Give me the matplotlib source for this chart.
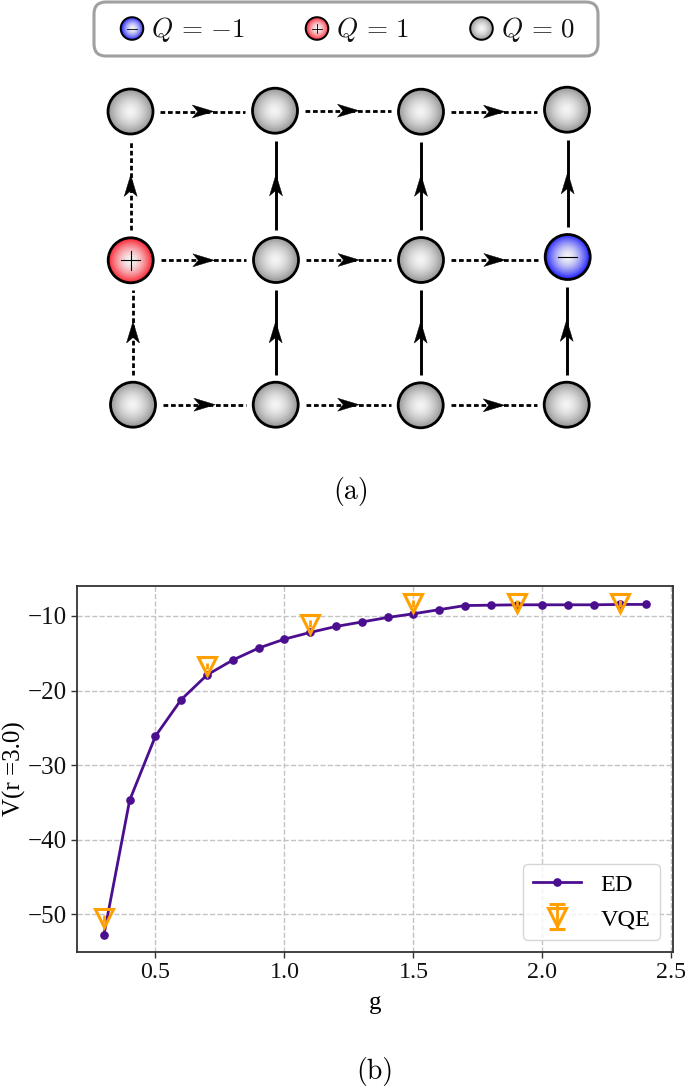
import numpy as np
import matplotlib
matplotlib.use("Agg")
import matplotlib.pyplot as plt
from matplotlib.patches import Circle, FancyBboxPatch, Polygon

W, H = 685, 1087
DPI = 100
plt.rcParams['mathtext.fontset'] = 'cm'
plt.rcParams['axes.unicode_minus'] = True

# Data
g_ed = [0.3,0.4,0.5,0.6,0.7,0.8,0.9,1.0,1.1,1.2,1.3,1.4,1.5,1.6,1.7,1.8,1.9,2.0,2.1,2.2,2.3,2.4]
v_ed = [-52.8,-34.7,-26.1,-21.2,-17.9,-15.9,-14.3,-13.1,-12.2,-11.4,-10.8,-10.2,-9.7,-9.15,-8.6,-8.55,-8.5,-8.5,-8.5,-8.5,-8.45,-8.45]
g_vqe = [0.3,0.7,1.1,1.5,1.9,2.3]
v_vqe = [-50.5,-16.7,-11.05,-8.3,-8.3,-8.3]
err_vqe = [0.45,0.45,0.45,0.45,0.45,0.45]
xticks = [0.5,1.0,1.5,2.0,2.5]
yticks = [-10,-20,-30,-40,-50]

# lattice
node_x = [[130.5,275,421,567],[130.7,276,421,567.7],[133,275.7,420.7,566.7]]
node_y = [[111.5,110.7,111.7,109.7],[260.3,260,260,257],[404.7,404.7,405.3,404.7]]
charges = [[0,0,0,0],[1,0,0,-1],[0,0,0,0]]
h_solid = [[0,0,0],[0,0,0],[0,0,0]]
v_solid = [[0,1,1,1],[0,1,1,1]]
legend_q = [(-1,r'$Q\,=\,{-}1$'),(1,r'$Q\,=\,1$'),(0,r'$Q\,=\,0$')]

fig = plt.figure(figsize=(W/DPI, H/DPI), dpi=DPI)
bg = fig.add_axes([0,0,1,1])
bg.set_xlim(0,W); bg.set_ylim(H,0); bg.axis('off')

yy, xx = np.mgrid[-1:1:120j,-1:1:120j]
rr = np.clip(np.hypot(xx,yy),0,1)
def shade(color):
    c = np.array(color)
    t = (rr**1.6)[...,None]
    return (1-t)*np.array([0.96,0.96,0.96]) + t*c

COL = {0:(0.58,0.58,0.58),1:(0.98,0.12,0.18),-1:(0.12,0.12,0.98)}
def node(x,y,q,r,lw,mlw):
    im = bg.imshow(shade(COL[q]),extent=(x-r,x+r,y+r,y-r),zorder=3,interpolation='bilinear',aspect='auto')
    c = Circle((x,y),r,fc='none',ec='black',lw=lw,zorder=4)
    bg.add_patch(c); im.set_clip_path(c)
    s = r*0.42
    if q!=0:
        bg.plot([x-s,x+s],[y,y],color='k',lw=mlw,zorder=5)
    if q==1:
        bg.plot([x,x],[y-s,y+s],color='k',lw=mlw,zorder=5)

def arrow(x0,y0,x1,y1,solid):
    bg.plot([x0,x1],[y0,y1],color='k',lw=2.1 if solid else 2.0,ls='-' if solid else (0,(1.7,1.0)),zorder=2,solid_capstyle='butt',dash_capstyle='butt')
    d = np.array([x1-x0,y1-y0],float); d/=np.hypot(*d); n=np.array([-d[1],d[0]])
    m = (np.array([x0,y0])+np.array([x1,y1]))/2
    tip = m+d*11; back = m-d*10.5; mid=m-d*5
    bg.add_patch(Polygon([tip,back+n*6.5,mid,back-n*6.5],closed=True,fc='k',ec='k',lw=0.3,zorder=3))

R = 22.5
GAP = 30
for i,row in enumerate(charges):
    for j,q in enumerate(row):
        node(node_x[i][j],node_y[i][j],q,R,2.0,0.8)
for i in range(3):
    for j in range(3):
        arrow(node_x[i][j]+GAP,node_y[i][j],node_x[i][j+1]-GAP,node_y[i][j],h_solid[i][j])
for i in range(2):
    for j in range(4):
        arrow(node_x[i+1][j],node_y[i+1][j]-GAP,node_x[i+1][j],node_y[i][j]+GAP,v_solid[i][j])

# top legend box
bg.add_patch(FancyBboxPatch((94,2),504,54,boxstyle='round,pad=0,rounding_size=12',fc='white',ec='#a0a0a0',lw=2.2,zorder=1))
for (q,t),xn,xt in zip(legend_q,[132,317,481.5],[151.5,336.5,501.5]):
    node(xn,28.5,q,11.3,1.4,0.6)
    bg.text(xt,29,t,fontsize=19.5,va='center',ha='left',color='#111111',zorder=5)

bg.text(351.5,491,'(a)',family='cmr10',fontsize=20,ha='center',va='center')
bg.text(375,1072,'(b)',family='cmr10',fontsize=20,ha='center',va='center')
bg.set_xlim(0,W); bg.set_ylim(H,0)

# chart
L,Rt,T,B = 77,672.5,586,952
ax = fig.add_axes([L/W,1-B/H,(Rt-L)/W,(B-T)/H])
ax.set_xlim(0.196,2.504); ax.set_ylim(-55.03,-5.98)
ax.grid(True,color='#c4c4c4',ls='--',lw=1.0)
ax.set_axisbelow(True)
purple='#4b0e8e'; orange='#ffa000'
ax.plot(g_ed,v_ed,'-o',color=purple,lw=2,ms=5.2,label='ED',zorder=3)
eb = ax.errorbar(g_vqe,v_vqe,yerr=err_vqe,fmt='v',mfc='none',mec=orange,mew=2.2,ms=12.5,ecolor=orange,elinewidth=2,capsize=5.5,capthick=2,label='VQE',zorder=4)
for cap in eb[1]:
    cap.set_data([],[])
ax.set_xticks(xticks); ax.set_yticks(yticks)
serif=['Liberation Serif','DejaVu Serif']
ax.tick_params(axis='y',labelsize=18,length=4,width=1,color='#333333',labelcolor='#111111')
ax.tick_params(axis='x',labelsize=17.3,length=4,width=1,color='#333333',labelcolor='#111111')
for t in ax.get_xticklabels()+ax.get_yticklabels(): t.set_family(serif)
for s in ax.spines.values(): s.set_linewidth(1.3); s.set_color('#333333')
ax.set_xlabel('g',family=serif,fontsize=18,labelpad=6)
ax.set_ylabel('V(r =3.0)',family=serif,fontsize=18,labelpad=1)
ax.legend(loc='lower right',prop={'family':serif,'size':17.5},framealpha=0.8,edgecolor='#cccccc')
fig.savefig('out.png',dpi=DPI)
